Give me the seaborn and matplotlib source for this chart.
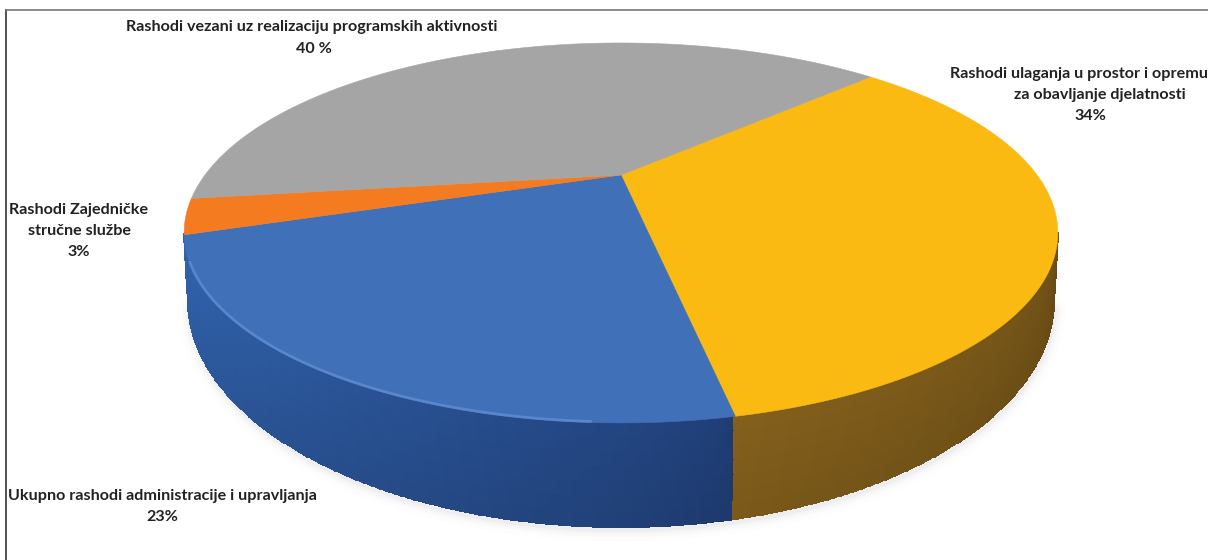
"""
Perspective 3D pie of expenditure shares
"""

import numpy as np
import matplotlib
matplotlib.use("Agg")
import matplotlib.pyplot as plt
from matplotlib.colors import to_rgb
import seaborn as sns

# Data, clockwise from the grey/yellow boundary
categories = [
    "Rashodi ulaganja u prostor i opremu za obavljanje djelatnosti",
    "Ukupno rashodi administracije i upravljanja",
    "Rashodi Zajedničke stručne službe",
    "Rashodi vezani uz realizaciju programskih aktivnosti",
]
shares = [34, 23, 3, 40]
share_labels = ["34%", "23%", "3%", "40 %"]

sns.set_theme(style="white")
plt.rcParams['font.family'] = ['Lato', 'DejaVu Sans']

palette = sns.color_palette(["#FBBA12", "#4070B8", "#F47B20", "#A5A5A5"])
# side wall colour at the start and the end of each slice
# (the orange slice only touches the left edge, where the wall still reads as blue)
side_colours = [("#84601C", "#5E4412"), ("#1F3D75", "#3265B0"),
                ("#3265B0", "#3265B0"), ("#777777", "#777777")]

# Pie geometry in pixels
START_ANGLE = 43.5
CX, APEX_Y = 621.0, 175.0
A, B, K = 416.0, 172.3, 0.305
LOW_CY, LOW_A, LOW_B = 300.0, 433.0, 227.0


def project(theta):
    """Map angle on the pie disc (degrees) to screen position, with perspective."""
    t = np.radians(theta)
    w = 1 + K * np.sin(t)
    return CX + A * np.cos(t) / w, APEX_Y - B * np.sin(t) / w


def lower_edge(x):
    """Bottom outline of the pie below a rim position x."""
    dx = (x - CX) * LOW_A / 437.0
    return CX + dx, LOW_CY + LOW_B * np.sqrt(np.clip(1 - (dx / LOW_A) ** 2, 0, 1))


fig = plt.figure(figsize=(12.08, 5.6), dpi=100)
ax = fig.add_axes([6 / 1208, 0, 1202 / 1208, 550 / 560])
ax.set_xlim(6, 1208)
ax.set_ylim(560, 10)
ax.set_xticks([])
ax.set_yticks([])
for name in ['right', 'bottom']:
    ax.spines[name].set_visible(False)
ax.spines['top'].set_color('#777777')
ax.spines['top'].set_linewidth(1.2)
ax.spines['left'].set_color('#333333')
ax.spines['left'].set_linewidth(1.2)

# Slice limits from the data
spans = np.array(shares) / np.sum(shares) * 360.0
stops = START_ANGLE - np.concatenate([[0], np.cumsum(spans)])

# Front part of the rim, from the leftmost to the rightmost point
grid = np.linspace(180, 360, 721)
gx, gy = project(grid)
front = grid[np.argmin(gx):np.argmax(gx) + 1]
rim_x, rim_y = project(front)
low_x, low_y = lower_edge(rim_x)

# Soft shadow under the pie
for width, alpha in [(16, 0.010), (10, 0.018), (6, 0.025), (3, 0.04)]:
    ax.plot(low_x + 1, low_y + 3, color='#555566', lw=width, alpha=alpha,
            solid_capstyle='round', zorder=1)

# Side wall, one mesh coloured slice by slice
depth = np.linspace(0, 1, 8)[:, None]
mesh_x = rim_x[None, :] * (1 - depth) + low_x[None, :] * depth
mesh_y = rim_y[None, :] * (1 - depth) + low_y[None, :] * depth
mids = (front[:-1] + front[1:]) / 2 - 360.0
colours = np.zeros((len(depth) - 1, len(mids), 3))
for i in range(len(shares)):
    inside = (mids <= stops[i]) & (mids > stops[i + 1])
    if not inside.any():
        continue
    frac = (stops[i] - mids[inside]) / spans[i]
    if i == 0:
        # yellow slice: frac grows from the right edge towards the front
        frac = frac.max() - frac
    frac = frac ** 0.8
    first, last = np.array(to_rgb(side_colours[i][0])), np.array(to_rgb(side_colours[i][1]))
    base = first + np.outer(frac, last - first)
    for row in range(len(depth) - 1):
        colours[row, inside] = base * (1 - 0.07 * row / 6)
ax.pcolormesh(mesh_x, mesh_y, colours, shading='flat', edgecolors='face',
              linewidth=0.3, zorder=2)

# Top face
for i, colour in enumerate(palette):
    arc = np.linspace(stops[i], stops[i + 1], 200)
    x, y = project(arc)
    ax.fill(np.r_[CX, x], np.r_[APEX_Y, y], color=colour, lw=0.4, zorder=3)

# Light bevel along the blue rim
blue_arc = np.linspace(stops[2] + 8, stops[1] - 14, 120)
bx, by = project(blue_arc)
ax.plot(bx, by - 1, color='#6E9BDB', lw=2.0, alpha=0.55, zorder=4)

# Labels
text_style = dict(fontsize=11.65, fontweight='bold', color='#222222', va='center', zorder=5)
ax.text(312, 27, categories[3], ha='center', **text_style)
ax.text(314, 49, share_labels[3], ha='center', **text_style)
ax.text(950, 74, "Rashodi ulaganja u prostor i opremu", ha='left', clip_on=False, **text_style)
ax.text(1100, 95, "za obavljanje djelatnosti", ha='center', **text_style)
ax.text(1090, 116, share_labels[0], ha='center', **text_style)
ax.text(79, 210, "Rashodi Zajedničke", ha='center', **text_style)
ax.text(79, 231, "stručne službe", ha='center', **text_style)
ax.text(79, 252, share_labels[2], ha='center', **text_style)
ax.text(162, 496, categories[1], ha='center', **text_style)
ax.text(162, 517, share_labels[1], ha='center', **text_style)

plt.savefig('out.png', dpi=100)
plt.close()
